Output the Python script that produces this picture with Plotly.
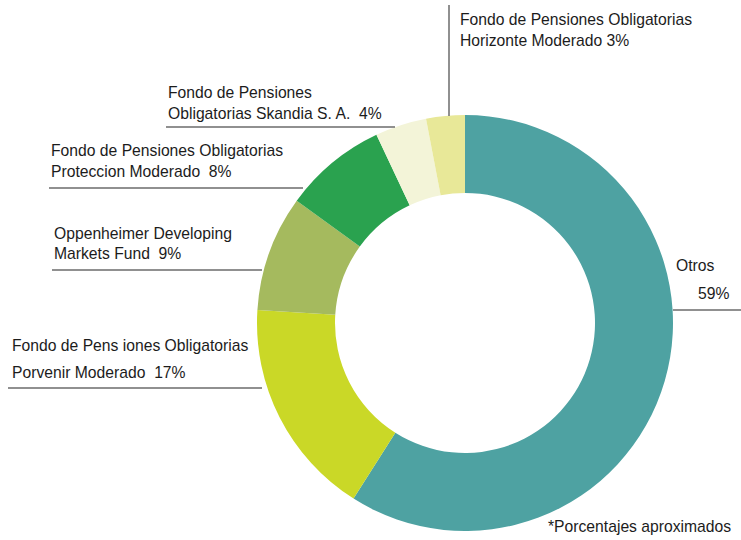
import plotly.graph_objects as go

# share of each fund (clockwise from 12 o'clock)
funds = ["Otros",
         "Fondo de Pensiones Obligatorias Porvenir Moderado",
         "Oppenheimer Developing Markets Fund",
         "Fondo de Pensiones Obligatorias Proteccion Moderado",
         "Fondo de Pensiones Obligatorias Skandia S. A.",
         "Fondo de Pensiones Obligatorias Horizonte Moderado"]
shares = [59, 17, 9, 8, 4, 3]
colors = ["#4ea2a2", "#cad827", "#a5ba5e", "#2aa24f", "#f3f4d8", "#e8e898"]

# label text, split in two lines as printed
label_top = ["Otros", "Fondo de Pens iones Obligatorias", "Oppenheimer Developing",
             "Fondo de Pensiones Obligatorias", "Fondo de Pensiones",
             "Fondo de Pensiones Obligatorias"]
label_bottom = ["", "Porvenir Moderado ", "Markets Fund ", "Proteccion Moderado ",
                "Obligatorias Skandia S. A. ", "Horizonte Moderado"]

W, H = 741, 540
FONT = "Liberation Sans, Arial, sans-serif"
TXT = "#1c1c1c"
LINE = "#6b6b6b"


def px(x):
    return x / W


def py(y):
    return 1 - y / H


cx, cy, r = 465, 323, 208

fig = go.Figure(go.Pie(
    labels=funds, values=shares, sort=False, direction="clockwise", rotation=0,
    hole=0.625, marker=dict(colors=colors, line=dict(width=0)),
    textinfo="none", hoverinfo="label+percent", showlegend=False,
    domain=dict(x=[px(cx - r), px(cx + r)], y=[py(cy + r), py(cy - r)]),
))

annotations = []
shapes = []


def text(x, y, s, anchor="left"):
    annotations.append(dict(x=px(x), y=py(y), xref="paper", yref="paper", text=s,
                            showarrow=False, xanchor=anchor, yanchor="middle",
                            font=dict(family=FONT, size=15.7, color=TXT)))


def line(x0, y0, x1, y1):
    shapes.append(dict(type="line", xref="paper", yref="paper",
                       x0=px(x0), y0=py(y0), x1=px(x1), y1=py(y1),
                       line=dict(color=LINE, width=1.5)))


# Otros
text(717, 265, label_top[0], "right")
text(731, 293, f"{shares[0]}%", "right")
line(673, 310, 741, 310)

# Porvenir
text(10, 345, label_top[1])
text(10, 372, f"{label_bottom[1]} {shares[1]}%")
line(8, 388, 262, 388)

# Oppenheimer
text(52, 233, label_top[2])
text(52, 254, f"{label_bottom[2]} {shares[2]}%")
line(52, 270, 262, 270)

# Proteccion
text(49, 150, label_top[3])
text(49, 171, f"{label_bottom[3]} {shares[3]}%")
line(49, 188, 303, 188)

# Skandia
text(166, 92, label_top[4])
text(166, 113, f"{label_bottom[4]} {shares[4]}%")
line(166, 127, 395, 127)

# Horizonte
text(458, 19, label_top[5])
text(458, 40, f"{label_bottom[5]} {shares[5]}%")
line(449, 5, 449, 116)

# footnote
text(733, 526, "*Porcentajes aproximados", "right")

fig.update_layout(width=W, height=H, margin=dict(l=0, r=0, t=0, b=0),
                  paper_bgcolor="white", plot_bgcolor="white",
                  annotations=annotations, shapes=shapes)

# drop the page's default body margin so the figure sits at the window corner
fig.write_html("out.html", config={"displayModeBar": False},
               post_script="document.body.style.margin='0px';")
